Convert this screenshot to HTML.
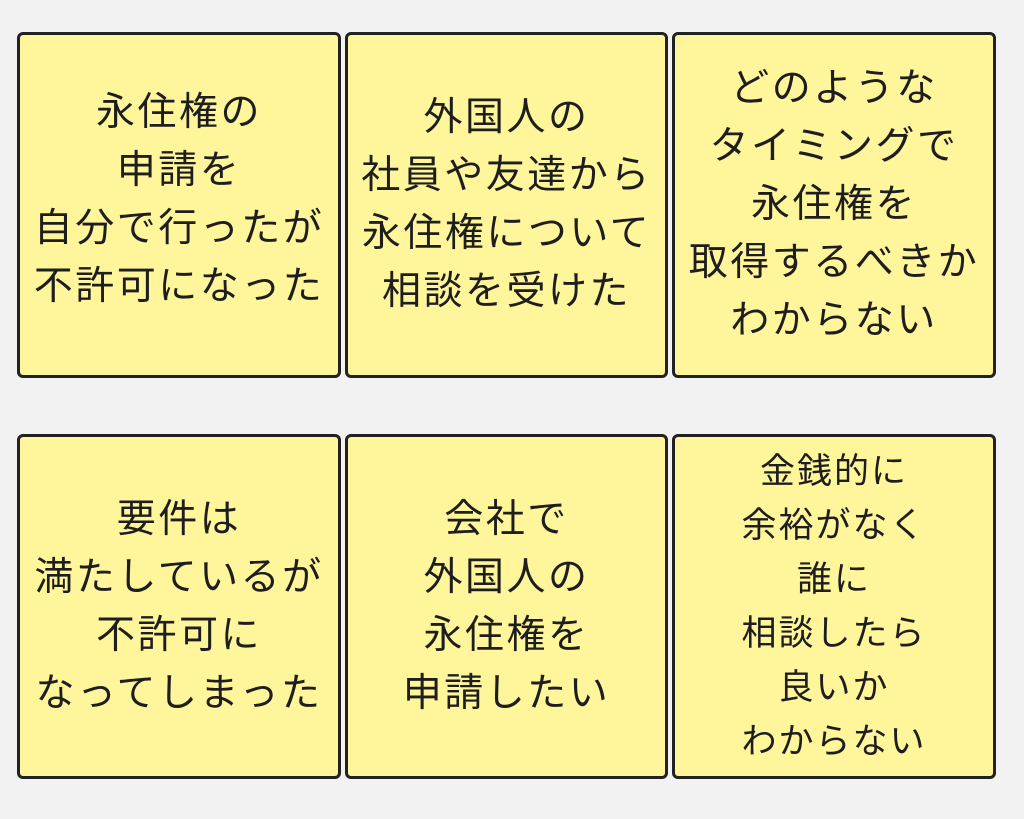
<!DOCTYPE html>
<html><head><meta charset="utf-8"><style>
body{margin:0;width:1024px;height:819px;background:#f2f2f2;position:relative;overflow:hidden}
.b{position:absolute;box-sizing:border-box;background:#fff59a;border:3px solid #222;border-radius:6px;display:flex;align-items:center;justify-content:center;text-align:center;color:#1e1e1e;font-family:"Liberation Sans","Noto Sans CJK JP",sans-serif;font-size:39px;line-height:58px;letter-spacing:2.5px;font-weight:400}
.s{font-size:35px;line-height:54px;letter-spacing:2px}
</style></head><body>
<div class="b" style="left:17px;top:32px;width:324px;height:346px;padding-bottom:10px">永住権の<br>申請を<br>自分で行ったが<br>不許可になった</div>
<div class="b" style="left:345px;top:32px;width:323px;height:346px">外国人の<br>社員や友達から<br>永住権について<br>相談を受けた</div>
<div class="b" style="left:672px;top:32px;width:324px;height:346px">どのような<br>タイミングで<br>永住権を<br>取得するべきか<br>わからない</div>
<div class="b" style="left:17px;top:434px;width:324px;height:345px">要件は<br>満たしているが<br>不許可に<br>なってしまった</div>
<div class="b" style="left:345px;top:434px;width:323px;height:345px">会社で<br>外国人の<br>永住権を<br>申請したい</div>
<div class="b s" style="left:672px;top:434px;width:324px;height:345px">金銭的に<br>余裕がなく<br>誰に<br>相談したら<br>良いか<br>わからない</div>
</body></html>
